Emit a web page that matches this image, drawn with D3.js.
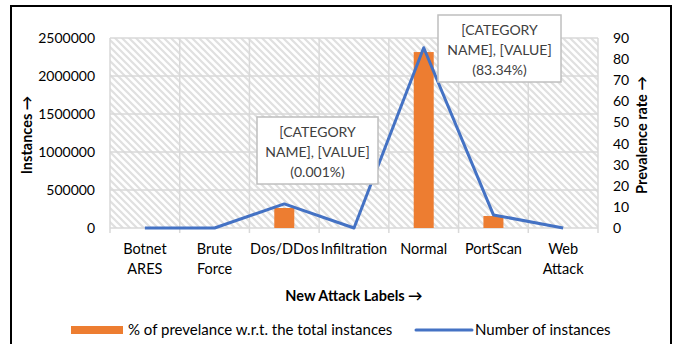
<!DOCTYPE html>
<html>
<head>
<meta charset="utf-8">
<script src="https://cdn.jsdelivr.net/npm/d3@7"></script>
<style>
  body { margin: 0; background: #fff; }
  svg text { font-family: Lato, "Open Sans", sans-serif; fill: #000; }
</style>
</head>
<body>
<div id="chart"></div>
<script>
// chart data
var categories = ["Botnet ARES", "Brute Force", "Dos/DDos", "Infiltration", "Normal", "PortScan", "Web Attack"];
var barValues = [0, 0, 263000, 0, 2315000, 158000, 0];      // left axis (Instances)
var lineValues = [0, 0, 11.4, 0, 85.4, 6.2, 0];             // right axis (Prevalence rate)
var leftTicks = [0, 500000, 1000000, 1500000, 2000000, 2500000];
var rightTicks = [0, 10, 20, 30, 40, 50, 60, 70, 80, 90];
var calloutIndex = [2, 4];
var calloutPct = ["(0.001%)", "(83.34%)"];

function init() {
    var w = 677, h = 344;
    var left = 110, right = 598, top = 38, bottom = 228;

    var svg = d3.select("#chart").append("svg")
        .attr("width", w).attr("height", h);

    // hatch pattern
    var defs = svg.append("defs");
    var pat = defs.append("pattern")
        .attr("id", "hatch")
        .attr("patternUnits", "userSpaceOnUse")
        .attr("width", 7).attr("height", 7);
    pat.append("rect").attr("width", 7).attr("height", 7).attr("fill", "#fff");
    pat.append("path")
        .attr("d", "M-1,-1 L8,8 M-1,6 L1,8 M6,-1 L8,1")
        .attr("stroke", "#e0e0e0")
        .attr("stroke-width", 2.2);

    // outer frame
    svg.append("rect")
        .attr("x", 11).attr("y", 6)
        .attr("width", 660).attr("height", 345)
        .attr("fill", "none").attr("stroke", "#000").attr("stroke-width", 2);

    var x = d3.scaleBand().domain(categories).range([left, right]).padding(0);
    var y = d3.scaleLinear().domain([0, 2500000]).range([bottom, top]);
    var y2 = d3.scaleLinear().domain([0, 90]).range([bottom, top]);

    svg.append("rect")
        .attr("x", left).attr("y", top)
        .attr("width", right - left).attr("height", bottom - top)
        .attr("fill", "url(#hatch)");

    // horizontal gridlines
    svg.append("g").selectAll("line").data(leftTicks).enter().append("line")
        .attr("x1", left).attr("x2", right)
        .attr("y1", function(d) { return y(d); })
        .attr("y2", function(d) { return y(d); })
        .attr("stroke", "#d9d9d9").attr("stroke-width", 1.5);

    // vertical gridlines at category boundaries (plus tick marks below the axis)
    var bounds = categories.map(function(c) { return x(c); }).concat([right]);
    svg.append("g").selectAll("line").data(bounds).enter().append("line")
        .attr("x1", function(d) { return d; }).attr("x2", function(d) { return d; })
        .attr("y1", top).attr("y2", bottom + 5)
        .attr("stroke", "#d9d9d9").attr("stroke-width", 1.5);

    // bars
    var bw = 20;
    svg.append("g").selectAll("rect").data(barValues).enter().append("rect")
        .attr("x", function(d, i) { return x(categories[i]) + x.bandwidth() / 2 - bw / 2; })
        .attr("y", function(d) { return y(d); })
        .attr("width", bw)
        .attr("height", function(d) { return y(0) - y(d); })
        .attr("fill", "#ED7D31");

    // line
    var line = d3.line()
        .x(function(d, i) { return x(categories[i]) + x.bandwidth() / 2; })
        .y(function(d) { return y2(d); });
    svg.append("path")
        .datum(lineValues)
        .attr("d", line)
        .attr("fill", "none")
        .attr("stroke", "#4472C4")
        .attr("stroke-width", 3)
        .attr("stroke-linejoin", "round");

    // left axis labels
    var yAxis = d3.axisLeft(y).tickValues(leftTicks).tickSize(0).tickPadding(15)
        .tickFormat(d3.format("d"));
    var gy = svg.append("g").attr("transform", "translate(" + left + ",0)").call(yAxis);
    gy.select(".domain").remove();
    gy.selectAll("text").style("font-size", "14px").style("font-family", "Lato");

    // right axis labels
    var yAxis2 = d3.axisRight(y2).tickValues(rightTicks).tickSize(0).tickPadding(15);
    var gy2 = svg.append("g").attr("transform", "translate(" + right + ",0)").call(yAxis2);
    gy2.select(".domain").remove();
    gy2.selectAll("text").style("font-size", "14px").style("font-family", "Lato");

    // x tick labels (wrapped)
    var xl = svg.append("g").selectAll("text").data(categories).enter().append("text")
        .attr("text-anchor", "middle")
        .attr("font-size", 14.5)
        .attr("x", function(d) { return x(d) + x.bandwidth() / 2; })
        .attr("y", 254);
    xl.each(function(d) {
        var t = d3.select(this);
        var parts = (d === "Dos/DDos") ? [d] : d.split(" ");
        parts.forEach(function(p, k) {
            t.append("tspan")
                .attr("x", t.attr("x"))
                .attr("dy", k === 0 ? 0 : 20)
                .text(p);
        });
    });

    // axis titles
    svg.append("text")
        .attr("transform", "translate(32,135) rotate(-90)")
        .attr("text-anchor", "middle")
        .attr("font-size", 14.5).attr("font-weight", "bold")
        .text("Instances \u2192");
    svg.append("text")
        .attr("transform", "translate(647,135) rotate(-90)")
        .attr("text-anchor", "middle")
        .attr("font-size", 14.5).attr("font-weight", "bold")
        .text("Prevalence rate \u2192");
    svg.append("text")
        .attr("x", (left + right) / 2).attr("y", 301)
        .attr("text-anchor", "middle")
        .attr("font-size", 14.5).attr("font-weight", "bold")
        .text("New Attack Labels \u2192");

    // callouts
    var boxes = [
        { x: 257, y: 117, w: 121, h: 67 },
        { x: 438, y: 15, w: 123, h: 67 }
    ];
    calloutIndex.forEach(function(ci, k) {
        var b = boxes[k];
        var g = svg.append("g");
        g.append("rect")
            .attr("x", b.x).attr("y", b.y).attr("width", b.w).attr("height", b.h)
            .attr("fill", "#fff").attr("stroke", "#bfbfbf").attr("stroke-width", 1.5);
        var lines = ["[CATEGORY", "NAME], [VALUE]", calloutPct[k]];
        lines.forEach(function(s, j) {
            g.append("text")
                .attr("x", b.x + b.w / 2).attr("y", b.y + 20 + j * 20)
                .attr("text-anchor", "middle")
                .attr("font-size", 14)
                .style("fill", "#404040")
                .text(s);
        });
    });

    // legend
    svg.append("rect")
        .attr("x", 71).attr("y", 326).attr("width", 52).attr("height", 8)
        .attr("fill", "#ED7D31");
    svg.append("text")
        .attr("x", 128).attr("y", 335).attr("font-size", 15)
        .text("% of prevelance w.r.t. the total instances");
    svg.append("line")
        .attr("x1", 416).attr("x2", 472).attr("y1", 330).attr("y2", 330)
        .attr("stroke", "#4472C4").attr("stroke-width", 3).attr("stroke-linecap", "round");
    svg.append("text")
        .attr("x", 475).attr("y", 335).attr("font-size", 15)
        .text("Number of instances");
}
window.onload = init;
</script>
</body>
</html>
